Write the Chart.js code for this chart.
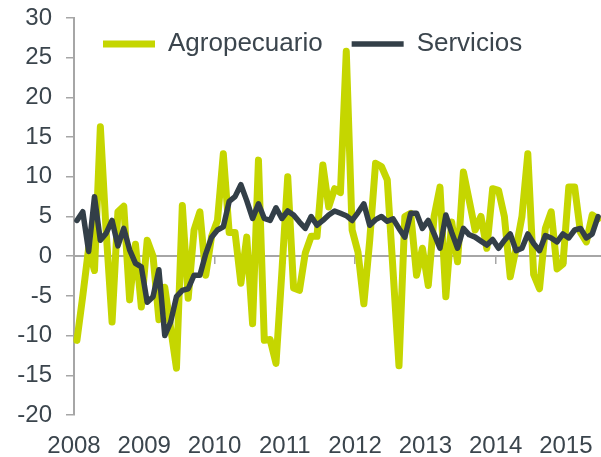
<!DOCTYPE html>
<html>
<head>
<meta charset="utf-8">
<script src="https://cdn.jsdelivr.net/npm/chart.js@4/dist/chart.umd.min.js"></script>
<style>
html,body{margin:0;padding:0;background:#ffffff;}
#wrap{width:601px;height:457px;position:relative;}
</style>
</head>
<body>
<div id="wrap"><canvas id="c" width="601" height="457"></canvas></div>
<script>
// ---- data ----
const years = ['2008','2009','2010','2011','2012','2013','2014','2015'];
const monthNames = ['ene','feb','mar','abr','may','jun','jul','ago','sep','oct','nov','dic'];
const months = [];
years.forEach(y => monthNames.forEach(m => months.push(m + '-' + y)));
const categories = months.slice(0, 90); // ene-2008 .. jun-2015

const agropecuario = [
  -10.6, -5.0, 1.0, -1.8, 16.3, 3.0, -8.3, 5.6, 6.3, -5.5, 1.5, -6.4,
  2.0, 0.0, -8.0, -3.9, -9.0, -14.1, 6.4, -5.3, 3.3, 5.6, -2.4, 2.5,
  4.5, 12.9, 3.0, 3.0, -3.4, 2.4, -8.5, 12.1, -10.6, -10.5, -13.5, -2.0,
  10.0, -4.0, -4.3, 0.4, 2.5, 2.5, 11.5, 6.2, 8.5, 8.0, 25.8, 3.3,
  0.5, -6.0, 2.0, 11.7, 11.3, 9.6, -2.0, -13.8, 5.0, 5.4, -2.4, 1.0,
  -3.7, 5.0, 8.7, -5.1, 4.3, -0.7, 10.6, 7.0, 3.3, 5.0, 1.0, 8.5,
  8.3, 5.0, -2.6, 1.0, 5.0, 12.9, -2.3, -4.1, 3.5, 5.6, -1.6, -1.0,
  8.7, 8.7, 3.0, 1.8, 5.2, 4.7
];
const servicios = [
  4.5, 5.6, 0.6, 7.5, 2.0, 2.9, 4.5, 1.3, 3.5, 0.8, -0.9, -1.35,
  -5.8, -5.1, -1.7, -10.0, -8.3, -5.1, -4.3, -4.1, -2.4, -2.4, 0.3, 2.4,
  3.3, 3.7, 6.9, 7.5, 9.0, 7.0, 4.75, 6.6, 4.75, 4.5, 6.1, 4.75,
  5.7, 5.2, 4.3, 3.5, 5.0, 3.9, 4.5, 5.2, 5.7, 5.4, 5.1, 4.5,
  5.5, 6.6, 3.9, 4.6, 5.0, 4.4, 4.7, 3.5, 2.4, 5.4, 5.4, 3.5,
  4.5, 2.8, 1.0, 5.2, 3.0, 1.0, 3.5, 2.7, 2.4, 1.9, 1.4, 2.1,
  1.0, 2.0, 2.8, 0.7, 1.0, 2.8, 1.6, 0.7, 2.6, 2.3, 1.8, 2.8,
  2.3, 3.3, 3.5, 2.3, 2.8, 5.0
];
const yMin = -20, yMax = 30, yStep = 5;

// ---- style ----
const textColor = '#3b454d';
const axisColor = '#a6a6a6';
const FONT = '"Liberation Sans", Arial, sans-serif';

// legend drawn inside the plot area, in one row
const legendInside = {
  id: 'legendInside',
  beforeLayout(chart) {
    if (chart.legend) chart.legend.isHorizontal = () => true;
  },
  afterLayout(chart) {
    const lg = chart.legend, ca = chart.chartArea;
    if (lg) {
      const h = lg.bottom - lg.top;
      lg.left = ca.left; lg.right = ca.right;
      lg.top = ca.top - 16; lg.bottom = lg.top + h;
    }
  }
};

const yearTicksOnly = s => { s.ticks = s.ticks.filter(t => t.value % 12 === 0 && t.value < 90); };

new Chart(document.getElementById('c'), {
  type: 'line',
  data: {
    labels: categories,
    datasets: [
      { label: 'Agropecuario', data: agropecuario, borderColor: '#c5d600', backgroundColor: '#c5d600',
        borderWidth: 7, pointRadius: 0, tension: 0, order: 2, borderCapStyle: 'round', borderJoinStyle: 'round' },
      { label: 'Servicios', data: servicios, borderColor: '#333f48', backgroundColor: '#333f48',
        borderWidth: 5.5, pointRadius: 0, tension: 0, order: 1, borderCapStyle: 'round', borderJoinStyle: 'round' }
    ]
  },
  options: {
    responsive: false,
    animation: false,
    devicePixelRatio: 1,
    layout: { padding: { top: 18, right: 0, left: 0, bottom: 0 } },
    plugins: {
      tooltip: { enabled: false },
      legend: {
        position: 'chartArea',
        align: 'start',
        labels: {
          usePointStyle: true, pointStyle: 'line', pointStyleWidth: 52,
          padding: 29, color: textColor, font: { size: 26, family: FONT },
          sort: (a, b) => a.datasetIndex - b.datasetIndex
        }
      }
    },
    scales: {
      x: { type: 'category', offset: true, display: false },
      xt: {
        axis: 'x', type: 'linear', position: { y: 0 }, min: 0, max: 90,
        afterBuildTicks: yearTicksOnly,
        ticks: { display: false, stepSize: 12, includeBounds: false },
        grid: { drawOnChartArea: false, drawTicks: true, tickLength: 7, color: axisColor, lineWidth: 1.5 },
        border: { display: true, color: axisColor, width: 2 }
      },
      xl: {
        axis: 'x', type: 'linear', position: 'bottom', min: 0, max: 90,
        afterBuildTicks: yearTicksOnly,
        afterFit: s => { s.height = 42; s.paddingLeft = 0; s.paddingRight = 0; },
        ticks: { stepSize: 12, includeBounds: false, autoSkip: false, maxRotation: 0, padding: 9,
                 color: textColor, font: { size: 24, family: FONT },
                 callback: v => years[Math.round(v / 12)] },
        grid: { display: false },
        border: { display: false }
      },
      y: {
        min: yMin, max: yMax,
        afterFit: s => { s.width = 74; s.paddingTop = 0; s.paddingBottom = 0; },
        ticks: { stepSize: yStep, padding: 14, color: textColor, font: { size: 24, family: FONT } },
        grid: { drawOnChartArea: false, drawTicks: true, tickLength: 8, color: axisColor, lineWidth: 1.5 },
        border: { display: true, color: axisColor, width: 2 }
      }
    }
  },
  plugins: [legendInside]
});
</script>
</body>
</html>
